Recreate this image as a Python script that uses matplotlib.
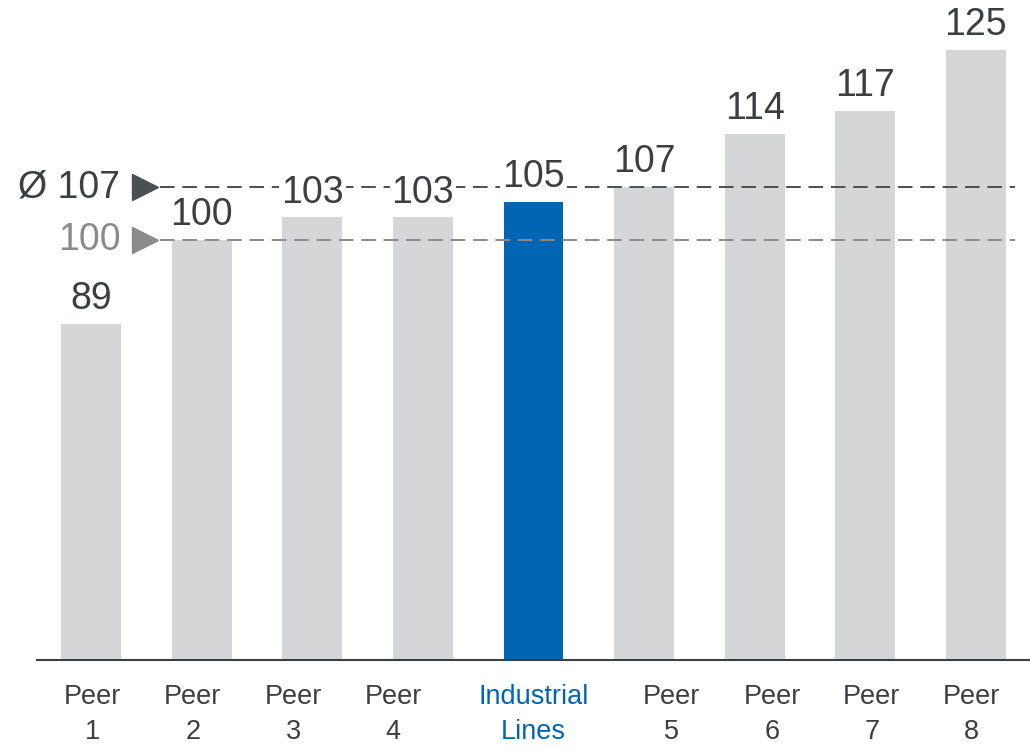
"""Peer comparison bar chart with average and index reference lines."""

import numpy as np
import matplotlib
matplotlib.use("Agg")
import matplotlib.pyplot as plt

plt.rcParams["font.family"] = ["Liberation Sans", "DejaVu Sans"]

categories = ["Peer\n1", "Peer\n2", "Peer\n3", "Peer\n4", "Industrial\nLines",
              "Peer\n5", "Peer\n6", "Peer\n7", "Peer\n8"]
values = [89, 100, 103, 103, 105, 107, 114, 117, 125]
highlight = "Industrial\nLines"
avg_value = 107
index_value = 100

TEXT = "#3a3f44"
GREY_BAR = "#d5d6d8"
BLUE = "#0066b3"
AVG_LINE = "#4a4f54"
IDX_LINE = "#8a8a8a"

fig = plt.figure(figsize=(10.3, 7.49), dpi=100)
ax = fig.add_axes([37 / 1030, 89 / 749, 1 - 37 / 1030, 1 - 89 / 749])

x = np.arange(len(values))
colors = [BLUE if c == highlight else GREY_BAR for c in categories]
ax.bar(x, values, width=0.54, color=colors, zorder=1)

for xi, v in zip(x, values):
    ax.annotate(str(v), (xi, v), xytext=(0, 5), textcoords="offset points",
                ha="center", va="bottom", fontsize=27, color=TEXT, zorder=4,
                bbox=dict(boxstyle="square,pad=0.05", fc="white", ec="none"))

# reference lines with arrow markers on the left
line_start, line_end = 0.62, 8.35
for val, col, label in [(avg_value, AVG_LINE, f"Ø {avg_value}"),
                        (index_value, IDX_LINE, f"{index_value}")]:
    ax.hlines(val, line_start, line_end, colors=col, linewidth=1.4,
              linestyles=(0, (7.5, 4)), zorder=2)
    ax.plot([0.49], [val], marker=">", markersize=19, color=col,
            clip_on=False, zorder=3)
    ax.annotate(label, (0.49, val), xytext=(-18, 0), textcoords="offset points",
                ha="right", va="center", fontsize=27,
                color=col if val == index_value else TEXT)

ax.set_xlim(-0.49, 8.49)
ax.set_ylim(44.8, 131.6)

label_pos = [0.01, 0.92, 1.83, 2.73, 4.0, 5.25, 6.16, 7.06, 7.96]
ax.set_xticks(label_pos)
ax.set_xticklabels(categories, fontsize=19.5, linespacing=1.45)
for lbl, c in zip(ax.get_xticklabels(), categories):
    lbl.set_color(BLUE if c == highlight else TEXT)
ax.tick_params(axis="x", length=0, pad=17)
ax.set_yticks([])

for side in ["top", "right", "left"]:
    ax.spines[side].set_visible(False)
ax.spines["bottom"].set_color(TEXT)
ax.spines["bottom"].set_linewidth(1.5)

fig.savefig("out.png", dpi=100)
